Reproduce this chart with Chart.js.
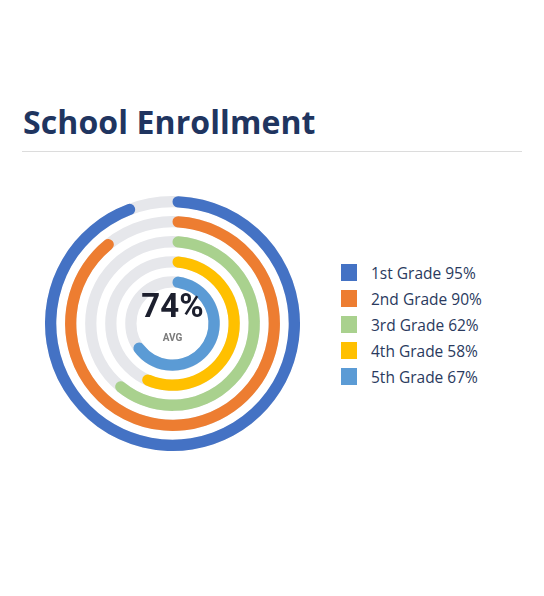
<!DOCTYPE html>
<html>
<head>
<meta charset="utf-8">
<script src="https://cdn.jsdelivr.net/npm/chart.js@4"></script>
<style>
  body { margin: 0; background: #fff; width: 544px; height: 596px; position: relative; font-family: "Open Sans", sans-serif; }
  h1 { position: absolute; left: 23px; top: 100px; margin: 0; font-size: 32px; font-weight: 700; color: #1f3560; letter-spacing: 0.1px; }
  .rule { position: absolute; left: 22px; top: 151px; width: 500px; height: 1px; background: #dcdcdc; }
  .chartbox { position: absolute; left: 45px; top: 196px; width: 255px; height: 255px; }
  .center { position: absolute; left: 45px; top: 196px; width: 255px; text-align: center; pointer-events: none; }
  .center .big { position: absolute; left: 0; right: 0; top: 90px; font-family: Roboto, sans-serif; font-weight: 700; font-size: 33px; color: #1c1f2e; }
  .center .small { position: absolute; left: 0; right: 0; top: 136px; font-family: Roboto, sans-serif; font-weight: 700; font-size: 10px; color: #7a7a7a; }
  .legend { position: absolute; left: 341px; top: 263px; }
  .legend div { height: 26px; line-height: 20px; display: flex; align-items: flex-start; font-size: 15.5px; color: #2a3a5e; }
  .legend span.sw { width: 16px; height: 17px; margin-top: 1px; margin-right: 14px; display: inline-block; }
</style>
</head>
<body>
<h1>School Enrollment</h1>
<div class="rule"></div>
<div class="chartbox"><canvas id="enrollChart"></canvas></div>
<div class="center"><div class="big"></div><div class="small">AVG</div></div>
<div class="legend" id="legend"></div>
<script>
// grades, enrolment share (%) and ring colours
var grades = ['1st Grade', '2nd Grade', '3rd Grade', '4th Grade', '5th Grade'];
var enrollment = [95, 90, 62, 58, 67];
var colors = ['#4472c4', '#ed7d31', '#a9d18e', '#ffc000', '#5b9bd5'];
var trackColor = '#e6e7eb';

document.addEventListener('DOMContentLoaded', function() {
    var avg = enrollment.reduce(function(a, b) { return a + b; }, 0) / enrollment.length;
    document.querySelector('.center .big').textContent = Math.round(avg) + '%';

    // one ring per grade, with an empty spacer ring between them
    var datasets = [];
    enrollment.forEach(function(v, i) {
        if (i > 0) {
            datasets.push({ data: [100], backgroundColor: ['rgba(0,0,0,0)'], borderWidth: 0, weight: 0.78, spacer: true });
        }
        datasets.push({
            label: grades[i],
            data: [v, 100 - v],
            backgroundColor: [colors[i], 'rgba(0,0,0,0)'],
            borderWidth: 0,
            borderRadius: function(ctx) { return ctx.dataIndex === 0 ? 6 : 0; },
            weight: 1
        });
    });

    // grey track drawn behind every ring
    var trackPlugin = {
        id: 'track',
        beforeDatasetsDraw: function(chart) {
            var c = chart.ctx;
            chart.data.datasets.forEach(function(ds, i) {
                if (ds.spacer) return;
                var arc = chart.getDatasetMeta(i).data[0];
                if (!arc) return;
                var p = arc.getProps(['x', 'y', 'innerRadius', 'outerRadius'], true);
                c.save();
                c.beginPath();
                c.arc(p.x, p.y, (p.innerRadius + p.outerRadius) / 2, 0, Math.PI * 2);
                c.lineWidth = p.outerRadius - p.innerRadius;
                c.strokeStyle = trackColor;
                c.stroke();
                c.restore();
            });
        }
    };

    var ctx = document.getElementById('enrollChart').getContext('2d');
    new Chart(ctx, {
        type: 'doughnut',
        data: { labels: ['value', 'rest'], datasets: datasets },
        options: {
            responsive: true,
            maintainAspectRatio: false,
            animation: false,
            cutout: 36,
            plugins: { legend: { display: false }, tooltip: { enabled: false } }
        },
        plugins: [trackPlugin]
    });

    var legend = document.getElementById('legend');
    grades.forEach(function(g, i) {
        var row = document.createElement('div');
        var sw = document.createElement('span');
        sw.className = 'sw';
        sw.style.background = colors[i];
        row.appendChild(sw);
        row.appendChild(document.createTextNode(g + ' ' + enrollment[i] + '%'));
        legend.appendChild(row);
    });
});
</script>
</body>
</html>
